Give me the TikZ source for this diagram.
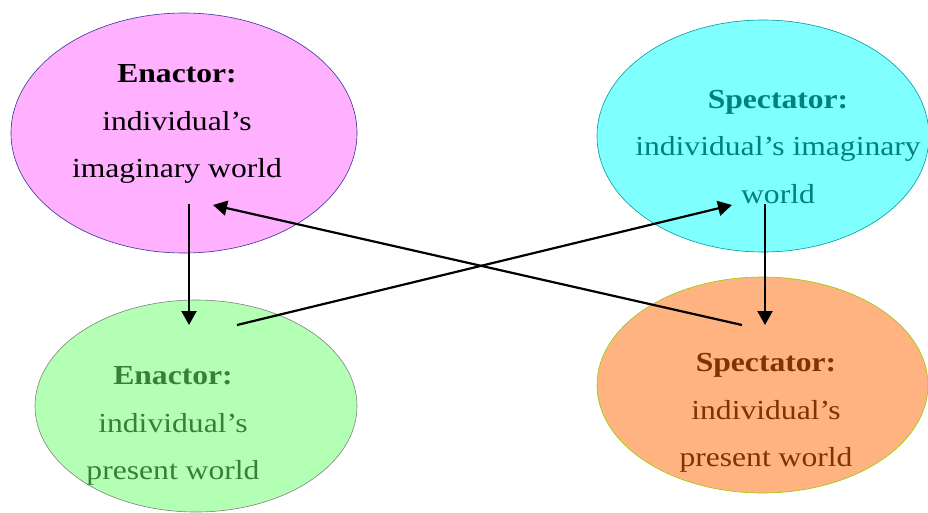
\documentclass[tikz,border=0pt]{standalone}
\usepackage{fontspec}
\setmainfont[FakeStretch=1.15]{Liberation Serif}
\usetikzlibrary{shapes.geometric,arrows.meta}
\definecolor{pinkfill}{RGB}{255,177,255}
\definecolor{pinkline}{RGB}{51,51,153}
\definecolor{cyanfill}{RGB}{128,255,255}
\definecolor{cyanline}{RGB}{0,153,153}
\definecolor{cyantext}{RGB}{0,128,128}
\definecolor{greenfill}{RGB}{179,255,179}
\definecolor{greenline}{RGB}{128,128,128}
\definecolor{greentext}{RGB}{56,128,56}
\definecolor{orangefill}{RGB}{255,179,128}
\definecolor{orangeline}{RGB}{153,204,0}
\definecolor{orangetext}{RGB}{128,51,0}
\tikzset{
  blob/.style={ellipse, inner sep=0pt, line width=0.6pt},
  label/.style={align=center, inner sep=0pt, font=\fontsize{27.5}{47.5}\selectfont},
  conn/.style={line width=2.2pt, -{Triangle[length=14pt,width=15pt]}}
}
\begin{document}
\begin{tikzpicture}[x=1pt,y=-1pt]
\useasboundingbox (0,0) rectangle (928,512);
\begin{scope}
\clip (0,0) rectangle (928,512);
\node[blob, draw=pinkline, fill=pinkfill, minimum width=346pt, minimum height=240pt] (ei) at (184,133) {};
\node[blob, draw=cyanline, fill=cyanfill, minimum width=332pt, minimum height=232pt] (si) at (763,136) {};
\node[blob, draw=greenline, fill=greenfill, minimum width=322pt, minimum height=212pt] (ep) at (196,406) {};
\node[blob, draw=orangeline, fill=orangefill, minimum width=331pt, minimum height=216pt] (sp) at (762.5,385) {};
\end{scope}
\node[label] (eit) at (177,124) {\textbf{Enactor:}\\individual’s\\imaginary world};
\node[label, text=cyantext] (sit) at (778,147) {\textbf{Spectator:}\\individual’s imaginary\\world};
\node[label, text=greentext] (ept) at (173,426) {\textbf{Enactor:}\\individual’s\\present world};
\node[label, text=orangetext] (spt) at (766,413) {\textbf{Spectator:}\\individual’s\\present world};
\coordinate (a1) at (189,204);
\coordinate (a2) at (189,325);
\coordinate (b1) at (742,325);
\coordinate (b2) at (213,205);
\coordinate (c1) at (237,325);
\coordinate (c2) at (732,205);
\coordinate (d1) at (765,204);
\coordinate (d2) at (765,325);
\draw[conn] (a1) -- (a2);
\draw[conn] (b1) -- (b2);
\draw[conn] (c1) -- (c2);
\draw[conn] (d1) -- (d2);
\end{tikzpicture}
\end{document}
